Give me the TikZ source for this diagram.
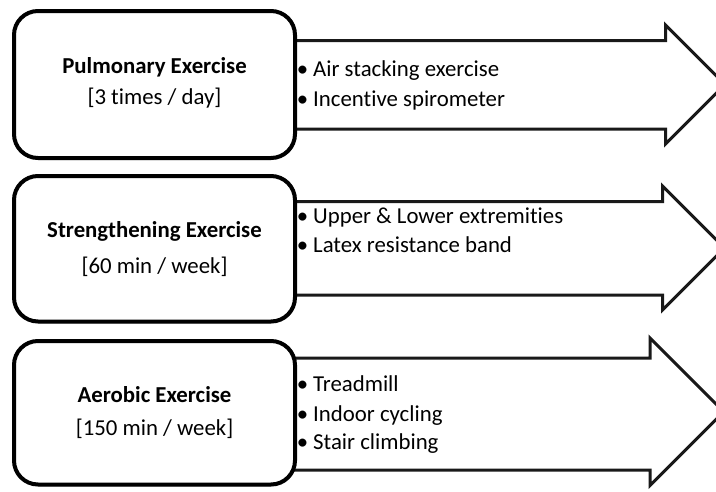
\documentclass[tikz,border=0pt]{standalone}
\usepackage{fontspec}
\setmainfont{Carlito}[Ligatures={NoCommon}]
\usetikzlibrary{shadows}
\begin{document}
\begin{tikzpicture}[x=1pt,y=-1pt,
  exbox/.style={draw=black,line width=4pt,rounded corners=24pt,fill=white,
    drop shadow={shadow xshift=1pt,shadow yshift=-2pt,opacity=0.25,fill=black!60}},
  exarrow/.style={draw=black!90,line width=3pt,fill=white,line join=miter},
  ttl/.style={anchor=base,font=\fontsize{22.8}{27}\selectfont\bfseries,inner sep=0pt},
  sub/.style={anchor=base,font=\fontsize{22.8}{27}\selectfont,inner sep=0pt},
  bul/.style={anchor=base west,font=\fontsize{22.8}{27}\selectfont,inner sep=0pt},
  dot/.style={anchor=base,font=\fontsize{22.8}{27}\selectfont,inner sep=0pt}]
\useasboundingbox (0,0) rectangle (716,491);
\clip (0,0) rectangle (716,491);
\fill[white] (0,0) rectangle (716,491);
% arrows
\draw[exarrow] (290,40.5) -- (665.5,40.5) -- (665.5,25) -- (725,84.5) -- (665.5,144) -- (665.5,129) -- (290,129) -- cycle;
\draw[exarrow] (290,201.5) -- (662.5,201.5) -- (662.5,186) -- (724.5,248) -- (662.5,310) -- (662.5,295) -- (290,295) -- cycle;
\draw[exarrow] (290,358) -- (650,358) -- (650,338) -- (723.75,411.75) -- (650,485.5) -- (650,470) -- (290,470) -- cycle;
% boxes
\node[exbox,minimum width=281pt,minimum height=147pt,inner sep=0pt] (b1) at (154.5,84.5) {};
\node[exbox,minimum width=281pt,minimum height=145.5pt,inner sep=0pt] (b2) at (154.5,248.75) {};
\node[exbox,minimum width=281pt,minimum height=143.5pt,inner sep=0pt] (b3) at (154.5,412.75) {};
% box texts
\node[ttl] (t1) at (154.5,73) {Pulmonary Exercise};
\node[sub] (s1) at (154.5,104) {[3 times / day]};
\node[ttl] (t2) at (154.5,237) {Strengthening Exercise};
\node[sub] (s2) at (154.5,273) {[60 min / week]};
\node[ttl] (t3) at (154.5,402) {Aerobic Exercise};
\node[sub] (s3) at (154.5,435) {[150 min / week]};
% bullets
\foreach \y/\t [count=\i] in {76/Air stacking exercise,106/Incentive spirometer,223/Upper \& Lower extremities,252/Latex resistance band,391/Treadmill,421/Indoor cycling,449/Stair climbing}{
  \node[dot] (d\i) at (302.5,\y) {•};
  \node[bul] (l\i) at (313,\y) {\t};
}
\end{tikzpicture}
\end{document}
